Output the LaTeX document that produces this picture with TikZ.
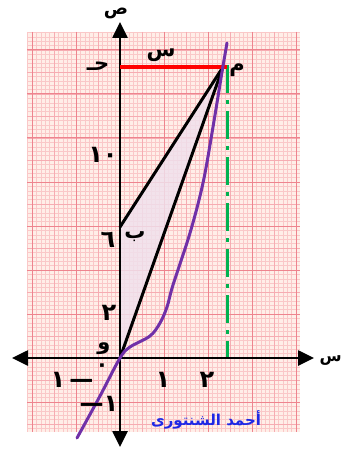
\documentclass[tikz,border=0pt]{standalone}
\usepackage{fontspec}
\usepackage{tikz}
\usetikzlibrary{arrows.meta,calc}
\TeXXeTstate=1
\newfontfamily\arab[Script=Arabic]{DejaVu Sans}
\newcommand{\arb}[1]{{\arab\bfseries\beginR #1\endR}}
\definecolor{papir}{RGB}{255,238,232}
\definecolor{racs}{RGB}{250,200,200}
\definecolor{racsk}{RGB}{246,172,178}
\definecolor{racsn}{RGB}{238,132,142}
\definecolor{lila}{RGB}{112,48,168}
\definecolor{zold}{RGB}{0,178,80}
\definecolor{kek}{RGB}{30,40,230}
\definecolor{arnyek}{RGB}{240,224,236}
\tikzset{
  tengely/.style={line width=2.6pt,{Triangle[length=16pt,width=15pt]}-{Triangle[length=16pt,width=15pt]}},
  vonal/.style={line width=3pt,line cap=round},
  piros/.style={line width=3.8pt,red},
  szagg/.style={line width=3pt,zold,dash pattern=on 28pt off 7pt on 4pt off 7pt},
  gorbe/.style={line width=3pt,lila,line cap=round},
  cimke/.style={inner sep=0pt,font=\fontsize{21}{25}\selectfont},
  szam/.style={inner sep=0pt,font=\fontsize{24}{28}\selectfont},
  vekony/.style={racs,line width=0.5pt},
  kozep/.style={racsk,line width=0.8pt},
  vastag/.style={racsn,line width=1pt},
}
\begin{document}
\begin{tikzpicture}[x=1pt,y=-1pt]
  \useasboundingbox (0,0) rectangle (343,449);
  % millimeterpapir
  \fill[papir] (27,32) rectangle (300,432);
  \begin{scope}
    \clip (27,32) rectangle (300,432);
    \foreach \k in {-21,...,40} \draw[vekony] ({120+4.4*\k},32) -- ++(0,400);
    \foreach \k in {-16,...,74} \draw[vekony] (27,{358-4.4*\k}) -- ++(273,0);
    \foreach \k in {-5,...,8} \draw[kozep] ({120+22*\k},32) -- ++(0,400);
    \foreach \k in {-4,...,15} \draw[kozep] (27,{358-22*\k}) -- ++(273,0);
    \foreach \k in {-2,...,4} \draw[vastag] ({120+44*\k},32) -- ++(0,400);
    \foreach \k in {-2,...,7} \draw[vastag] (27,{358-44*\k}) -- ++(273,0);
  \end{scope}
  \coordinate (O) at (120,358);
  \coordinate (A) at (223,67);
  \coordinate (B) at (120,227);
  \coordinate (H) at (120,67);
  \coordinate (Hv) at (227,67);
  \coordinate (Z1) at (227,65);
  \coordinate (Z2) at (227,358);
  \coordinate (xbal) at (12,358);
  \coordinate (xjobb) at (314,358);
  \coordinate (yfel) at (120,22);
  \coordinate (yle) at (120,447);
  \fill[arnyek,opacity=0.85] (O) -- (B) -- (A) -- cycle;
  \draw[szagg] (Z1) -- (Z2);
  \draw[tengely] (xbal) -- (xjobb);
  \draw[tengely] (yle) -- (yfel);
  \draw[vonal] (O) -- (A);
  \draw[vonal] (B) -- (A);
  \draw[piros] (H) -- (Hv);
  \draw[gorbe] plot[smooth,tension=0.55] coordinates {(77,438) (100,396) (120,358)
    (130,347) (150,336) (160,323) (167,307) (173,285) (190,233) (203,183)
    (213,127) (222,72) (227,43)};
  % cimkek
  \node[inner sep=0pt,font=\fontsize{18}{21}\selectfont,anchor=base] (ys) at (116,15) {\arb{ص}};
  \node[inner sep=0pt,font=\fontsize{16}{18}\selectfont,anchor=east] (xs) at (342,361) {\arb{س}};
  \node[cimke] (hl) at (98,66) {\arb{حـ}};
  \node[cimke] (al) at (237,70) {\arb{م}};
  \node[cimke] (sl) at (161,55) {\arb{س}};
  \node[cimke] (bl) at (135,237) {\arb{ب}};
  \node[cimke] (ol) at (104,349) {\arb{و}};
  \node[cimke] (nl) at (102,368) {\arab\bfseries ٠};
  \node[szam] (y2) at (109,313) {\arab\bfseries ٢};
  \node[szam] (y6) at (108,240) {\arab\bfseries ٦};
  \node[szam] (y10) at (103,155) {\arab\bfseries ١٠};
  \node[szam] (x1) at (163,380) {\arab\bfseries ١};
  \node[szam] (x2) at (207,380) {\arab\bfseries ٢};
  \node[szam] (xm1) at (72,380) {\arab\bfseries ١\,—};
  \node[szam] (ym1) at (99,404) {\arab\bfseries ١—};
  \node[inner sep=0pt,kek,font=\fontsize{15}{18}\selectfont] (nev) at (206,420) {\arb{أحمد الشنتورى}};
\end{tikzpicture}
\end{document}
